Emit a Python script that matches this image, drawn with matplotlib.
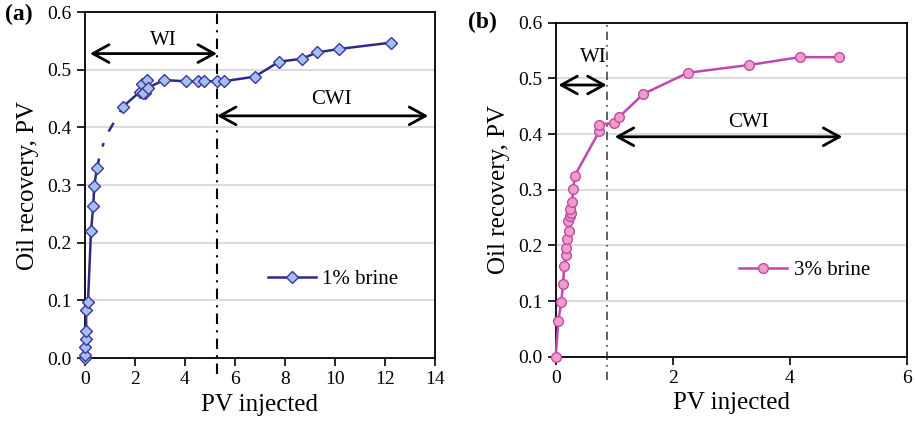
import matplotlib
matplotlib.use("Agg")
import matplotlib.pyplot as plt

plt.rcParams['font.family'] = ['Liberation Serif', 'DejaVu Serif']

# (a) 1% brine
pv_a = [0, 0.0, 0.0, 0.04, 0.05, 0.04, 0.12, 0.24, 0.33, 0.37, 0.48]
rec_a = [0.0, 0.006, 0.019, 0.033, 0.047, 0.083, 0.098, 0.22, 0.264, 0.299, 0.329]
gap_pv_a = [0.48, 0.62, 0.88, 1.16, 1.52]
gap_rec_a = [0.329, 0.358, 0.388, 0.409, 0.436]
pv_a2 = [1.52, 2.2, 2.26, 2.4, 2.46, 2.32, 2.52, 3.16, 4.03, 4.51, 4.78, 5.28,
         5.55, 6.79, 7.77, 8.67, 9.29, 10.16, 12.24]
rec_a2 = [0.436, 0.462, 0.475, 0.46, 0.482, 0.46, 0.469, 0.482, 0.480, 0.480,
          0.480, 0.480, 0.480, 0.488, 0.514, 0.519, 0.530, 0.536, 0.547]
switch_a = 5.28

# (b) 3% brine
pv_b = [0, 0.046, 0.097, 0.125, 0.148, 0.177, 0.177, 0.2, 0.228, 0.217, 0.25,
        0.256, 0.25, 0.28, 0.30, 0.325, 0.746, 0.746, 1.003, 1.088, 1.50,
        2.26, 3.31, 4.17, 4.84]
rec_b = [0.0, 0.065, 0.099, 0.131, 0.163, 0.183, 0.195, 0.212, 0.226, 0.244,
         0.253, 0.259, 0.265, 0.278, 0.301, 0.325, 0.405, 0.417, 0.420, 0.431,
         0.472, 0.510, 0.524, 0.538, 0.538]
switch_b = 0.872

fig = plt.figure(figsize=(9.15, 4.25), dpi=100)
ax1 = fig.add_axes([0.0929, 0.1576, 0.3825, 0.814])
ax2 = fig.add_axes([0.6073, 0.1607, 0.3836, 0.786])

navy = '#2e2a8c'
magenta = '#c046b0'

ax1.plot(pv_a, rec_a, color=navy, lw=1.8, marker='D', ms=6.5,
         mfc='#a4c0ee', mec='#3a36a0', mew=1.0, clip_on=False, zorder=4)
ax1.plot(gap_pv_a, gap_rec_a, color=navy, lw=1.8, ls=(0, (4, 5, 1.5, 5)))
ax1.plot(pv_a2, rec_a2, color=navy, lw=1.8, marker='D', ms=6.5,
         mfc='#a4c0ee', mec='#3a36a0', mew=1.0, label='1% brine', zorder=4)

ax2.plot(pv_b, rec_b, color=magenta, lw=1.8, marker='o', ms=7,
         mfc='#f09cc8', mec='#c04aa8', mew=1.0, label='3% brine',
         clip_on=False, zorder=4)

ax1.set_xlim(0, 14)
ax1.set_xticks(range(0, 15, 2))
ax2.set_xlim(0, 6)
ax2.set_xticks(range(0, 7, 2))

for ax in (ax1, ax2):
    ax.set_ylim(0, 0.6)
    ax.set_yticks([0.0, 0.1, 0.2, 0.3, 0.4, 0.5, 0.6])
    ax.set_yticklabels(['0.0', '0.1', '0.2', '0.3', '0.4', '0.5', '0.6'])
    ax.yaxis.grid(True, color='#d4d4d4', lw=1.2)
    ax.set_axisbelow(True)
    ax.tick_params(direction='out', length=6, width=1.2, labelsize=14, colors='black')
    for s in ax.spines.values():
        s.set_linewidth(1.3)
    ax.set_xlabel('PV injected', fontsize=18, labelpad=4)
    ax.set_ylabel('Oil recovery, PV', fontsize=18, labelpad=6)

# phase markers
ax1.plot([switch_a, switch_a], [-0.027, 0.6], color='black', lw=1.5,
         ls=(0, (5, 3, 1, 3)), clip_on=False)
ax2.plot([switch_b, switch_b], [-0.042, 0.6], color='#444444', lw=1.2,
         ls=(0, (5, 3, 1, 3)), clip_on=False)

arrow = dict(arrowstyle='<->, head_length=0.4, head_width=0.22', color='black',
             lw=2, mutation_scale=29, shrinkA=0, shrinkB=0)
ax1.annotate('', xy=(0.2, 0.528), xytext=(switch_a, 0.528), arrowprops=arrow)
ax1.text(3.12, 0.551, 'WI', fontsize=15, ha='center', va='center')
ax1.annotate('', xy=(switch_a, 0.42), xytext=(13.73, 0.42), arrowprops=arrow)
ax1.text(9.86, 0.448, 'CWI', fontsize=15, ha='center', va='center')

ax2.annotate('', xy=(0.046, 0.488), xytext=(switch_b, 0.488), arrowprops=arrow)
ax2.text(0.64, 0.537, 'WI', fontsize=15, ha='center', va='center')
ax2.annotate('', xy=(1.01, 0.395), xytext=(4.9, 0.395), arrowprops=arrow)
ax2.text(3.29, 0.42, 'CWI', fontsize=15, ha='center', va='center')

ax1.legend(loc='center left', bbox_to_anchor=(0.47, 0.227), frameon=False,
           fontsize=15, handlelength=2.3, handletextpad=0.3)
ax2.legend(loc='center left', bbox_to_anchor=(0.47, 0.258), frameon=False,
           fontsize=15, handlelength=2.3, handletextpad=0.3)

fig.text(0.005, 0.967, '(a)', fontsize=17, fontweight='bold', va='center', ha='left')
fig.text(0.511, 0.948, '(b)', fontsize=17, fontweight='bold', va='center', ha='left')

fig.savefig('out.png', dpi=100)
